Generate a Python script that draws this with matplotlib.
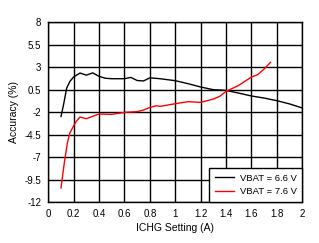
import matplotlib
matplotlib.use("Agg")
import matplotlib.pyplot as plt
import numpy as np

plt.rcParams['font.family'] = ['Liberation Sans', 'DejaVu Sans']

# VBAT = 6.6 V
ichg_66 = [0.1, 0.12, 0.145, 0.17, 0.2, 0.25, 0.3, 0.35, 0.4, 0.45, 0.5, 0.6, 0.65, 0.7, 0.75, 0.8, 0.88,
           1.0, 1.1, 1.2, 1.3, 1.4, 1.5, 1.6, 1.7, 1.8, 1.9, 2.0]
acc_66 = [-2.5, -1.2, 0.67, 1.4, 1.9, 2.33, 2.1, 2.35, 1.96, 1.75, 1.7, 1.7, 1.85, 1.5, 1.45, 1.8, 1.7,
          1.48, 1.15, 0.78, 0.48, 0.4, 0.1, -0.22, -0.45, -0.74, -1.1, -1.55]

# VBAT = 7.6 V
ichg_76 = [0.1, 0.126, 0.15, 0.17, 0.2, 0.22, 0.25, 0.3, 0.35, 0.4, 0.5, 0.6, 0.7, 0.75, 0.8, 0.85, 0.88,
           1.0, 1.1, 1.2, 1.3, 1.35, 1.4, 1.5, 1.6, 1.65, 1.7, 1.75]
acc_76 = [-10.44, -7.67, -5.45, -4.33, -3.52, -3.04, -2.56, -2.74, -2.48, -2.22, -2.26, -2.04, -1.96, -1.78, -1.49, -1.3, -1.37,
          -1.08, -0.85, -0.93, -0.56, -0.26, 0.29, 0.96, 1.89, 2.15, 2.78, 3.51]

fig = plt.figure(figsize=(3.19, 2.43), dpi=100)
ax = fig.add_axes([0.1514, 0.1687, 0.796, 0.7407])

ax.plot(ichg_66, acc_66, color='black', lw=1, label='VBAT = 6.6 V')
ax.plot(ichg_76, acc_76, color='red', lw=1, label='VBAT = 7.6 V')

ax.set_xlim(0, 2)
ax.set_ylim(-12, 8)
ax.set_xticks(np.arange(0, 2.01, 0.2))
ax.set_xticklabels(['0', '0.2', '0.4', '0.6', '0.8', '1', '1.2', '1.4', '1.6', '1.8', '2'])
ax.set_yticks([-12, -9.5, -7, -4.5, -2, 0.5, 3, 5.5, 8])
ax.set_yticklabels(['-12', '-9.5', '-7', '-4.5', '-2', '0.5', '3', '5.5', '8'])
ax.tick_params(labelsize=7, length=0, pad=5)
ax.grid(True, color='black', lw=1)
for s in ax.spines.values():
    s.set_color('black')
    s.set_linewidth(1)

ax.set_xlabel('ICHG Setting (A)', fontsize=7.5, labelpad=3)
ax.set_ylabel('Accuracy (%)', fontsize=7.5, labelpad=4)

leg = ax.legend(loc='lower right', fontsize=6.8, frameon=True, fancybox=False,
                borderaxespad=0, handlelength=2.0, handletextpad=0.6,
                borderpad=0.6, labelspacing=0.5)
leg.get_frame().set_edgecolor('black')
leg.get_frame().set_linewidth(1)
leg.get_frame().set_alpha(1)

fig.savefig('out.png', dpi=100)
